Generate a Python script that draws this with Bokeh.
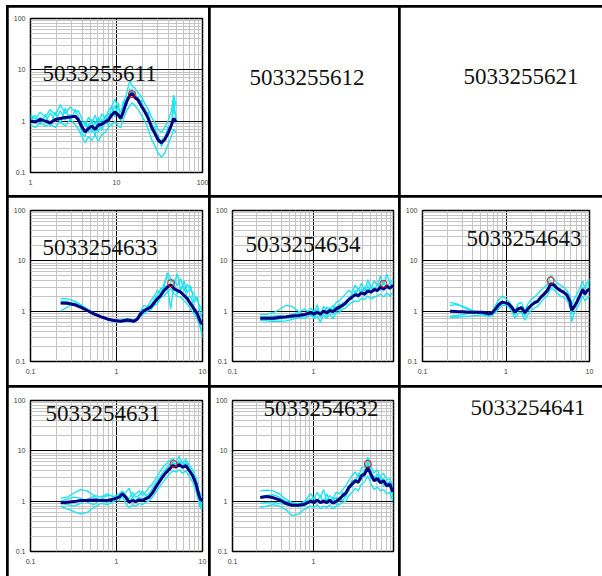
from bokeh.plotting import figure
from bokeh.models import FixedTicker, Label, GridBox, Spacer, Range1d, CustomJSTickFormatter
from bokeh.layouts import row, column
from bokeh.embed import file_html
from bokeh.resources import INLINE

# ---------------- data ----------------
NAMES = ["5033255611", "5033255612", "5033255621",
         "5033254633", "5033254634", "5033254643",
         "5033254631", "5033254632", "5033254641"]
X_LABEL = "Frequency(Hz)"
MAJOR_TICKS = [0.01, 0.1, 1, 10, 100, 1000]
MINOR_TICKS = [k * d for d in [0.01, 0.1, 1, 10, 100] for k in range(2, 10)]

# panel 5033255611
F11 = [1.0, 1.14, 1.3, 1.49, 1.7, 1.94, 2.22, 2.54, 2.9, 3.31, 3.62, 3.96, 4.32, 4.72, 5.16, 5.64,
       6.16, 6.73, 7.36, 8.04, 8.78, 9.6, 10.5, 11.2, 12.0, 13.1, 14.3, 15.2, 16.4, 17.9, 19.5,
       21.4, 23.4, 25.5, 27.9, 30.5, 33.3, 36.4, 39.8, 43.5, 46.2, 49.4]
M11 = [1.0, 0.97, 1.08, 1.0, 0.93, 1.08, 1.13, 1.18, 1.21, 1.25, 1.05, 0.78, 0.62, 0.72, 0.80, 0.69,
       0.84, 0.87, 0.97, 1.05, 1.31, 1.52, 1.31, 1.13, 1.52, 2.38, 3.2, 3.46, 2.89, 2.56, 1.96,
       1.52, 1.13, 0.78, 0.58, 0.43, 0.38, 0.44, 0.58, 0.84, 1.13, 0.97]
C11 = [
    [1.35, 1.1, 1.5, 1.2, 1.7, 1.3, 2.1, 1.4, 1.9, 1.5, 1.6, 1.1, 0.8, 1.2, 0.9, 1.3, 0.85, 1.4, 1.1, 1.6, 1.9,
     2.7, 1.7, 1.5, 2.2, 3.4, 6.3, 4.8, 4.4, 3.5, 3.0, 2.2, 1.7, 1.2, 0.95, 0.7, 0.6, 0.75, 1.0, 1.6, 3.2, 2.0],
    [0.85, 0.75, 0.95, 0.8, 0.9, 0.75, 1.0, 0.8, 1.1, 0.85, 0.7, 0.5, 0.38, 0.5, 0.42, 0.55, 0.4, 0.55, 0.6,
     0.75, 0.85, 1.0, 0.8, 0.75, 1.1, 1.6, 2.0, 2.3, 2.0, 1.7, 1.3, 1.0, 0.7, 0.45, 0.33, 0.24, 0.2, 0.24,
     0.35, 0.5, 0.7, 0.6],
    [1.1, 1.3, 0.85, 1.35, 0.8, 1.5, 0.9, 1.8, 1.0, 1.7, 1.2, 0.85, 1.0, 0.6, 1.1, 0.5, 1.2, 0.65, 1.3, 0.8,
     2.0, 1.2, 2.3, 1.0, 2.5, 2.0, 4.2, 3.0, 3.8, 2.2, 2.6, 1.4, 1.5, 0.65, 0.8, 0.38, 0.42, 0.5, 0.65, 0.9,
     1.8, 1.2],
    [1.25, 0.9, 1.2, 0.95, 1.45, 1.0, 1.6, 1.05, 1.35, 1.2, 1.0, 0.6, 0.5, 0.9, 0.6, 1.0, 0.6, 1.1, 0.85, 1.4,
     1.3, 2.0, 1.3, 1.25, 1.6, 2.8, 3.3, 4.2, 2.7, 3.0, 1.9, 1.8, 1.1, 0.95, 0.55, 0.55, 0.32, 0.45, 0.8, 0.7,
     2.6, 1.0],
]
P11 = (15.1, 3.36)

# panel 5033254633
F21 = [0.224, 0.267, 0.32, 0.383, 0.458, 0.547, 0.654, 0.78, 0.934, 1.12, 1.34, 1.6, 1.75, 1.91, 2.09,
       2.29, 2.5, 2.74, 2.99, 3.27, 3.58, 3.9, 4.27, 4.67, 5.1, 5.58, 6.1, 6.66, 7.29, 7.96, 8.7, 9.5, 10.0]
M21 = [1.46, 1.44, 1.36, 1.2, 1.03, 0.885, 0.78, 0.70, 0.65, 0.63, 0.67, 0.63, 0.70, 0.885, 1.03,
       1.11, 1.2, 1.46, 1.76, 2.05, 2.58, 3.0, 3.34, 2.78, 2.58, 2.39, 2.05, 1.76, 1.40, 1.11, 0.885, 0.6, 0.56]
C21 = [
    [1.8, 1.75, 1.6, 1.35, 1.1, 0.92, 0.8, 0.72, 0.66, 0.64, 0.70, 0.66, 0.75, 1.0, 1.3, 1.2,
     1.6, 2.0, 2.6, 2.2, 3.6, 4.8, 3.8, 4.2, 3.2, 4.5, 2.5, 3.4, 2.6, 2.2, 1.6, 1.2, 0.9],
    [1.0, 1.2, 1.45, 1.3, 1.1, 0.9, 0.78, 0.69, 0.63, 0.62, 0.65, 0.61, 0.66, 0.8, 0.9, 1.0,
     1.05, 1.3, 1.4, 1.9, 2.0, 2.4, 2.8, 2.2, 2.0, 1.9, 1.6, 1.4, 1.1, 0.9, 0.7, 0.45, 0.35],
    [1.6, 1.55, 1.4, 1.25, 1.06, 0.87, 0.76, 0.68, 0.62, 0.6, 0.63, 0.6, 0.68, 0.85, 1.0, 1.25,
     1.3, 1.7, 2.1, 2.8, 3.0, 5.8, 4.5, 3.4, 5.6, 2.6, 4.0, 2.3, 3.2, 1.5, 1.9, 0.8, 0.7],
    [1.4, 1.4, 1.3, 1.15, 1.0, 0.85, 0.79, 0.72, 0.67, 0.66, 0.72, 0.64, 0.72, 0.9, 1.1, 1.05,
     1.3, 1.5, 1.6, 2.4, 2.9, 3.2, 1.1, 3.6, 2.2, 2.9, 3.1, 1.8, 2.0, 1.2, 1.0, 0.5, 0.3],
]
P21 = (4.3, 3.6)

# panel 5033254634
F22 = [0.22, 0.264, 0.316, 0.379, 0.453, 0.542, 0.649, 0.777, 0.93, 1.02, 1.11, 1.22, 1.33, 1.46, 1.59,
       1.74, 1.91, 2.09, 2.29, 2.5, 2.74, 2.99, 3.27, 3.58, 3.92, 4.28, 4.69, 5.13, 5.61, 6.14, 6.71,
       7.35, 8.04, 8.8, 9.6]
M22 = [0.725, 0.725, 0.725, 0.75, 0.77, 0.80, 0.82, 0.86, 0.93, 0.88, 0.955, 0.87, 1.0, 0.93, 1.03,
       0.98, 1.11, 1.2, 1.3, 1.46, 1.7, 1.9, 2.11, 2.05, 2.31, 2.18, 2.53, 2.38, 2.69, 2.57, 3.0,
       2.78, 3.13, 2.86, 3.24]
C22 = [
    [0.85, 0.86, 0.92, 1.08, 1.3, 1.25, 1.0, 0.85, 1.15, 0.9, 1.35, 0.8, 1.25, 1.0, 0.95, 1.1, 1.5, 1.6, 1.9,
     2.2, 2.6, 2.3, 3.3, 2.6, 3.6, 2.5, 4.2, 2.8, 4.0, 3.2, 5.0, 3.3, 5.5, 3.5, 4.4],
    [0.65, 0.64, 0.63, 0.63, 0.64, 0.68, 0.75, 0.72, 0.85, 0.72, 0.8, 0.6, 0.85, 0.72, 0.9, 0.7, 0.95, 0.95,
     1.1, 1.15, 1.35, 1.5, 1.6, 1.55, 1.8, 1.7, 2.0, 1.75, 1.9, 2.0, 2.2, 1.9, 2.3, 2.0, 2.4],
    [0.78, 0.78, 0.8, 0.82, 0.8, 0.85, 0.95, 1.1, 0.88, 1.05, 0.85, 1.0, 0.9, 1.2, 1.0, 1.3, 1.0, 1.4, 1.25,
     1.6, 1.8, 2.2, 2.0, 2.8, 2.1, 3.0, 2.3, 3.2, 2.4, 3.6, 2.6, 4.0, 2.8, 3.8, 3.0],
    [0.7, 0.7, 0.68, 0.7, 0.72, 0.75, 0.78, 0.8, 0.95, 0.7, 1.1, 0.75, 1.0, 0.8, 1.2, 0.85, 1.25, 1.0, 1.5,
     1.3, 1.9, 1.7, 2.6, 1.8, 2.8, 2.0, 3.2, 2.2, 3.0, 2.4, 3.5, 2.5, 3.4, 2.7, 3.5],
]
P22 = (7.3, 3.5)

# panel 5033254643
F23 = [0.214, 0.256, 0.306, 0.366, 0.438, 0.524, 0.627, 0.685, 0.75, 0.82, 0.896, 0.98, 1.07, 1.17,
       1.28, 1.40, 1.53, 1.68, 1.83, 2.0, 2.19, 2.39, 2.62, 2.86, 3.13, 3.42, 3.74, 4.09, 4.47, 4.89,
       5.35, 5.85, 6.12, 6.5, 7.0, 7.7, 8.3, 8.8, 9.4, 10.0]
M23 = [1.0, 0.98, 0.97, 0.95, 0.95, 0.95, 0.885, 0.93, 1.11, 1.34, 1.51, 1.46, 1.40, 1.2, 0.955, 1.11,
       1.18, 0.93, 1.11, 1.30, 1.46, 1.56, 1.9, 2.18, 2.57, 3.49, 3.33, 2.86, 2.57, 2.39, 2.11, 1.56,
       1.03, 1.2, 1.46, 2.05, 2.7, 2.18, 2.57, 2.7]
C23 = [
    [1.5, 1.4, 1.2, 1.05, 1.0, 0.95, 0.9, 1.0, 1.3, 1.7, 2.0, 1.8, 1.6, 1.3, 1.0, 1.4, 1.5, 1.0, 1.4, 1.7, 1.9,
     2.2, 2.6, 3.0, 3.4, 5.2, 4.4, 3.6, 3.3, 3.0, 2.6, 2.0, 1.3, 1.7, 2.1, 2.9, 4.0, 2.8, 3.8, 3.6],
    [0.75, 0.75, 0.78, 0.8, 0.82, 0.85, 0.82, 0.85, 0.95, 1.1, 1.3, 1.3, 1.25, 1.0, 0.72, 0.9, 0.95, 0.66,
     0.85, 1.05, 1.15, 1.25, 1.5, 1.8, 2.0, 2.8, 2.7, 2.3, 2.0, 1.9, 1.7, 1.2, 0.62, 0.9, 1.1, 1.5, 2.0, 1.6,
     1.8, 2.0],
    [1.3, 1.35, 1.25, 1.1, 0.95, 0.85, 0.78, 0.82, 1.0, 1.25, 1.4, 1.5, 1.3, 1.15, 0.85, 1.2, 1.1, 0.8, 1.2,
     1.2, 1.6, 1.5, 2.0, 2.2, 2.8, 3.8, 3.6, 3.1, 2.5, 2.6, 2.0, 1.5, 0.9, 1.3, 1.6, 2.2, 3.0, 2.0, 2.8, 2.5],
    [0.8, 0.82, 0.85, 0.9, 0.92, 0.9, 0.85, 0.9, 1.15, 1.4, 1.6, 1.4, 1.5, 1.2, 1.05, 1.0, 1.25, 0.9, 1.0, 1.4,
     1.4, 1.7, 1.8, 2.4, 2.4, 3.2, 3.1, 2.7, 2.8, 2.2, 2.3, 1.7, 1.1, 1.1, 1.4, 1.9, 2.6, 2.4, 2.4, 4.5],
]
P23 = (3.42, 4.06)

# panel 5033254631
F31 = [0.224, 0.268, 0.32, 0.383, 0.458, 0.548, 0.655, 0.785, 0.94, 1.07, 1.17, 1.28, 1.40, 1.53, 1.67,
       1.83, 2.0, 2.18, 2.39, 2.62, 2.86, 3.13, 3.42, 3.74, 4.1, 4.5, 4.9, 5.35, 5.86, 6.4, 7.0, 7.66,
       8.4, 9.1, 9.6, 10.0]
M31 = [0.93, 0.955, 0.98, 1.03, 1.03, 1.06, 1.03, 1.03, 1.11, 1.2, 1.40, 1.2, 0.955, 1.03, 0.98, 1.06,
       1.03, 1.11, 1.2, 1.46, 1.9, 2.39, 3.0, 3.66, 4.27, 5.1, 4.75, 5.3, 4.75, 5.1, 4.07, 3.24, 2.21,
       1.3, 1.03, 1.11]
C31 = [
    [1.15, 1.2, 1.45, 1.7, 1.6, 1.3, 1.2, 1.4, 1.2, 1.0, 1.3, 1.5, 1.8, 1.2, 1.4, 1.6, 1.3, 1.5, 1.9, 2.2, 2.8,
     3.6, 4.6, 5.4, 6.2, 7.0, 6.0, 7.8, 5.6, 6.8, 5.2, 4.2, 3.0, 1.6, 1.3, 1.2],
    [0.8, 0.7, 0.62, 0.56, 0.6, 0.75, 0.9, 0.85, 1.0, 1.15, 1.25, 0.9, 0.75, 0.85, 0.8, 0.9, 0.85, 0.95, 1.0,
     1.2, 1.5, 1.9, 2.3, 2.8, 3.4, 4.0, 3.8, 4.2, 3.6, 4.0, 3.1, 2.4, 1.6, 0.9, 0.7, 0.75],
    [1.0, 1.1, 1.2, 1.15, 0.95, 0.85, 1.1, 1.3, 1.25, 1.4, 1.6, 1.3, 1.1, 1.5, 1.2, 1.3, 1.6, 1.3, 1.4, 1.8,
     2.3, 2.9, 3.6, 4.4, 5.2, 6.0, 5.4, 6.4, 5.0, 6.0, 4.6, 3.6, 2.6, 1.2, 0.9, 1.0],
    [0.9, 0.85, 0.8, 0.9, 1.1, 1.25, 1.0, 0.95, 1.15, 1.3, 1.5, 1.1, 0.9, 1.2, 1.0, 1.2, 1.1, 1.2, 1.3, 1.6,
     2.0, 2.6, 3.2, 4.0, 4.8, 5.6, 5.0, 6.0, 4.4, 5.4, 4.2, 3.2, 2.2, 1.1, 0.8, 0.9],
]
P31 = (4.6, 5.5)

# panel 5033254632
F32 = [0.22, 0.264, 0.316, 0.379, 0.453, 0.542, 0.649, 0.777, 0.85, 0.93, 1.02, 1.11, 1.22, 1.33, 1.46,
       1.59, 1.74, 1.91, 2.09, 2.29, 2.5, 2.74, 2.99, 3.27, 3.58, 3.92, 4.28, 4.69, 5.13, 5.61, 6.14,
       6.71, 7.35, 8.04, 8.8, 9.5]
M32 = [1.18, 1.24, 1.18, 1.06, 0.91, 0.83, 0.83, 0.87, 0.94, 1.0, 0.94, 1.05, 0.94, 1.0, 0.94, 1.05,
       0.91, 1.0, 1.1, 1.28, 1.44, 1.88, 2.18, 2.55, 2.39, 3.2, 3.45, 4.7, 3.35, 2.55, 2.83, 2.32, 2.55,
       2.02, 2.18, 1.53]
C32 = [
    [1.6, 1.65, 1.6, 1.4, 1.1, 0.95, 0.85, 1.0, 1.2, 1.4, 1.1, 1.5, 1.2, 1.7, 1.0, 1.3, 1.1, 1.5, 1.4, 1.7,
     2.0, 2.6, 3.2, 3.8, 3.0, 4.6, 4.8, 7.5, 5.0, 3.6, 4.2, 3.0, 3.6, 2.6, 2.8, 2.0],
    [0.75, 0.8, 0.85, 0.8, 0.68, 0.52, 0.55, 0.7, 0.75, 0.8, 0.75, 0.85, 0.7, 0.8, 0.75, 0.85, 0.7, 0.8, 0.85,
     0.95, 1.0, 1.3, 1.5, 1.8, 1.6, 2.2, 2.4, 3.2, 2.2, 1.7, 1.9, 1.6, 1.7, 1.4, 1.5, 1.0],
    [1.2, 1.3, 1.35, 1.2, 1.0, 0.9, 0.9, 0.95, 1.05, 1.1, 1.2, 1.0, 1.3, 0.9, 1.4, 1.0, 1.2, 0.85, 1.2, 1.0,
     1.3, 1.6, 2.6, 2.2, 3.6, 2.6, 4.2, 5.6, 2.8, 3.2, 2.4, 3.0, 2.0, 2.4, 1.8, 1.4],
    [0.9, 0.95, 0.95, 0.9, 0.85, 0.8, 0.78, 0.8, 0.9, 0.95, 1.0, 1.0, 0.95, 1.05, 1.0, 0.95, 1.05, 1.2, 1.0,
     1.5, 1.2, 2.0, 1.9, 2.8, 2.2, 3.6, 3.0, 6.0, 4.0, 2.8, 3.4, 2.6, 2.8, 2.2, 2.5, 1.2],
]
P32 = (4.69, 5.5)

# ---------------- styling ----------------
CYAN = "#12e4f2"
NAVY = "#000080"
SERIF = "Liberation Serif"
SANS = "Liberation Sans"


def base_figure(w, h, xr, bl, br, bt, bb, **kw):
    p = figure(width=w, height=h, x_axis_type="log", y_axis_type="log",
               x_range=Range1d(*xr), y_range=Range1d(0.1, 100),
               output_backend="svg", toolbar_location=None,
               min_border_left=bl, min_border_right=br,
               min_border_top=bt, min_border_bottom=bb,
               background_fill_color="white", border_fill_color="white", **kw)
    ticker = FixedTicker(ticks=MAJOR_TICKS, minor_ticks=MINOR_TICKS)
    fmt = CustomJSTickFormatter(code="return String(tick);")
    for ax in (p.xaxis[0], p.yaxis[0]):
        ax.ticker = ticker
        ax.formatter = fmt
        ax.axis_line_color = None
        ax.major_tick_line_color = None
        ax.minor_tick_line_color = None
        ax.major_tick_in = 0
        ax.major_tick_out = 0
        ax.minor_tick_in = 0
        ax.minor_tick_out = 0
        ax.major_label_text_font = SANS
        ax.major_label_text_font_size = "7px"
        ax.major_label_text_color = "#404040"
    p.xaxis.major_label_standoff = 7
    p.yaxis.major_label_standoff = 5
    for g in (p.xgrid[0], p.ygrid[0]):
        g.ticker = ticker
        g.grid_line_color = "black"
        g.grid_line_width = 1
        g.minor_grid_line_color = "#c4c4c4"
        g.minor_grid_line_width = 1
    p.outline_line_color = "black"
    p.outline_line_width = 1.5
    return p


def name_label(p, name, nx, ny):
    p.add_layout(Label(x=nx, y=ny, x_units="screen", y_units="screen", text=name,
                       text_font=SERIF, text_font_size="23px", text_color="#111111",
                       text_align="left", text_baseline="alphabetic"))


def hv_panel(w, h, xr, bl, br, bt, bb, F, M, C, P, name, nx, ny, fx, fy):
    p = base_figure(w, h, xr, bl, br, bt, bb)
    p.multi_line(xs=[F] * len(C), ys=C, line_color=CYAN, line_width=1.3)
    p.line(F, M, line_color=NAVY, line_width=3)
    p.scatter([P[0]], [P[1]], marker="circle", size=7, fill_color=None,
              line_color="red", line_width=1)
    name_label(p, name, nx, ny)
    p.add_layout(Label(x=fx, y=fy, x_units="screen", y_units="screen", text=X_LABEL,
                       text_font=SANS, text_font_size="8px", text_color="#404040",
                       text_align="center", text_baseline="middle"))
    return p


def empty_cell(w, h, name, nx, ny):
    # same frame recipe as the chart panels, with every axis part hidden
    p = base_figure(w, h, (0.1, 10), 22, 5, 1, 23, title_location=None)
    for ax in (p.xaxis[0], p.yaxis[0]):
        ax.major_label_text_alpha = 0
    p.grid.visible = False
    p.outline_line_color = "white"
    p.outline_line_alpha = 1
    name_label(p, name, nx, ny)
    return p


p11 = hv_panel(200, 188, (1, 100), 22, 5, 11, 23, F11, M11, C11, P11, NAMES[0], 12, 99, 86.5, -17)
p12 = empty_cell(188, 188, NAMES[1], 17, 95)
p13 = empty_cell(202, 188, NAMES[2], 41, 96)
p21 = hv_panel(200, 188, (0.1, 10), 22, 6, 13, 24, F21, M21, C21, P21, NAMES[3], 12, 114, 86, -17)
p22 = hv_panel(188, 188, (0.1, 9.73), 19, 0, 13, 24, F22, M22, C22, P22, NAMES[4], 13, 117, 84, -17)
p23 = hv_panel(202, 188, (0.1, 10), 18, 13, 13, 24, F23, M23, C23, P23, NAMES[5], 44, 123, 84, -17)
p31 = hv_panel(200, 189, (0.1, 10), 22, 6, 13, 25, F31, M31, C31, P31, NAMES[6], 15, 138, 86, -19)
p32 = hv_panel(188, 189, (0.1, 9.73), 19, 0, 13, 25, F32, M32, C32, P32, NAMES[7], 31, 143, 84, -19)
p33 = empty_cell(202, 189, NAMES[8], 48, 144)

corner = Spacer(width=0, height=0)
inner = GridBox(children=[(corner, 0, 0),
                          (p11, 1, 1), (p12, 1, 2), (p13, 1, 3),
                          (p21, 2, 1), (p22, 2, 2), (p23, 2, 3),
                          (p31, 3, 1), (p32, 3, 2), (p33, 3, 3)],
                spacing=2, styles={"background-color": "black"})

root = column(Spacer(width=602, height=5),
              row(Spacer(width=6, height=571), inner))

open("out.html", "w").write(file_html(root, INLINE))
